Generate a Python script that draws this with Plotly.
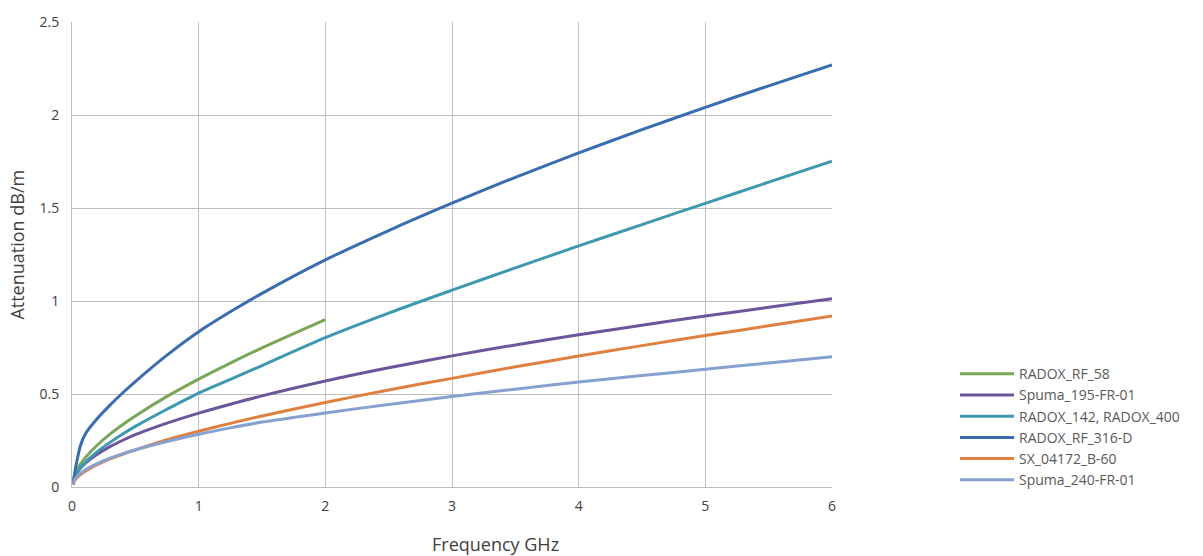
import plotly.graph_objects as go

freq = [0.01, 0.02, 0.045, 0.07, 0.11, 0.19, 0.3, 0.41, 0.5, 0.75, 1, 1.25,
        1.5, 2, 2.5, 3, 3.5, 4, 4.5, 5, 5.5, 6]
freq_58 = [0.01, 0.02, 0.045, 0.07, 0.11, 0.19, 0.3, 0.41, 0.5, 0.75, 1,
           1.25, 1.5, 2]

radox_rf_58 = [0.015, 0.06, 0.10, 0.127, 0.162, 0.219, 0.284, 0.340, 0.382,
               0.487, 0.580, 0.666, 0.748, 0.90]
spuma_195 = [0.015, 0.052, 0.083, 0.104, 0.131, 0.172, 0.217, 0.254, 0.281,
             0.343, 0.397, 0.445, 0.490, 0.570, 0.641, 0.705, 0.764, 0.818,
             0.870, 0.919, 0.966, 1.012]
radox_142_400 = [0.015, 0.056, 0.086, 0.107, 0.137, 0.185, 0.240, 0.289,
                 0.326, 0.418, 0.505, 0.579, 0.653, 0.803, 0.935, 1.058,
                 1.178, 1.296, 1.411, 1.525, 1.639, 1.752]
radox_rf_316d = [0.015, 0.07, 0.16, 0.23, 0.29, 0.36, 0.44, 0.512, 0.567,
                 0.709, 0.835, 0.942, 1.041, 1.221, 1.379, 1.526, 1.665,
                 1.796, 1.921, 2.041, 2.157, 2.269]
sx_04172 = [0.012, 0.034, 0.053, 0.068, 0.087, 0.117, 0.151, 0.179, 0.199,
            0.254, 0.300, 0.342, 0.382, 0.454, 0.522, 0.584, 0.646, 0.704,
            0.760, 0.814, 0.867, 0.920]
spuma_240 = [0.015, 0.04, 0.06, 0.075, 0.094, 0.123, 0.155, 0.181, 0.200,
             0.245, 0.284, 0.318, 0.349, 0.398, 0.444, 0.486, 0.526, 0.564,
             0.599, 0.633, 0.667, 0.700]

series = [
    ("RADOX_RF_58", freq_58, radox_rf_58, "#7AA658"),
    ("Spuma_195-FR-01", freq, spuma_195, "#6B569B"),
    ("RADOX_142, RADOX_400", freq, radox_142_400, "#3E98B0"),
    ("RADOX_RF_316-D", freq, radox_rf_316d, "#3A6DAF"),
    ("SX_04172_B-60", freq, sx_04172, "#E08040"),
    ("Spuma_240-FR-01", freq, spuma_240, "#86A0D0"),
]

x_ticks = [0, 1, 2, 3, 4, 5, 6]
y_ticks = [0, 0.5, 1, 1.5, 2, 2.5]
y_tick_text = ["0", "0.5", "1", "1.5", "2", "2.5"]

fig = go.Figure()
for name, xs, ys, color in series:
    fig.add_trace(go.Scatter(x=xs, y=ys, mode="lines", name=name,
                             line=dict(color=color, width=3, shape="spline",
                                       smoothing=0.8)))

font_family = "'Open Sans', Lato, sans-serif"
grid = "#BFBFBF"
fig.update_layout(
    width=1203, height=556,
    margin=dict(l=72, r=371, t=17, b=69),
    paper_bgcolor="white", plot_bgcolor="white",
    font=dict(family=font_family, size=14, color="#404040"),
    showlegend=True,
    legend=dict(x=(955 - 72) / 760, y=0.277, xanchor="left", yanchor="top",
                font=dict(size=14, color="#595959"), bgcolor="rgba(0,0,0,0)",
                traceorder="normal", itemwidth=54),
    xaxis=dict(range=[0, 6], tickvals=x_ticks, showgrid=True, gridcolor=grid,
               gridwidth=1, zeroline=False, showline=True, linecolor=grid,
               mirror=False, ticks="", ticklabelstandoff=6,
               tickfont=dict(size=14, color="#404040")),
    yaxis=dict(range=[0, 2.5], tickvals=y_ticks, ticktext=y_tick_text,
               showgrid=True, gridcolor=grid, gridwidth=1, zeroline=False,
               showline=True, linecolor=grid, ticks="", ticklabelstandoff=9,
               tickfont=dict(size=14, color="#404040")),
    annotations=[
        dict(text="Frequency GHz", xref="paper", yref="paper",
             x=(495 - 72) / 760, y=-(545 - 487) / 470, xanchor="center",
             yanchor="middle", showarrow=False,
             font=dict(size=18, color="#404040")),
        dict(text="Attenuation dB/m", xref="paper", yref="paper",
             x=-(72 - 17) / 760, y=(487 - 242) / 470, xanchor="center",
             yanchor="middle", textangle=-90, showarrow=False,
             font=dict(size=18, color="#404040")),
    ],
)

fig.write_html(
    "out.html",
    config={"displayModeBar": False},
    post_script="document.body.style.margin='0';"
                "document.body.style.padding='0';"
                "document.body.style.overflow='hidden';",
)
